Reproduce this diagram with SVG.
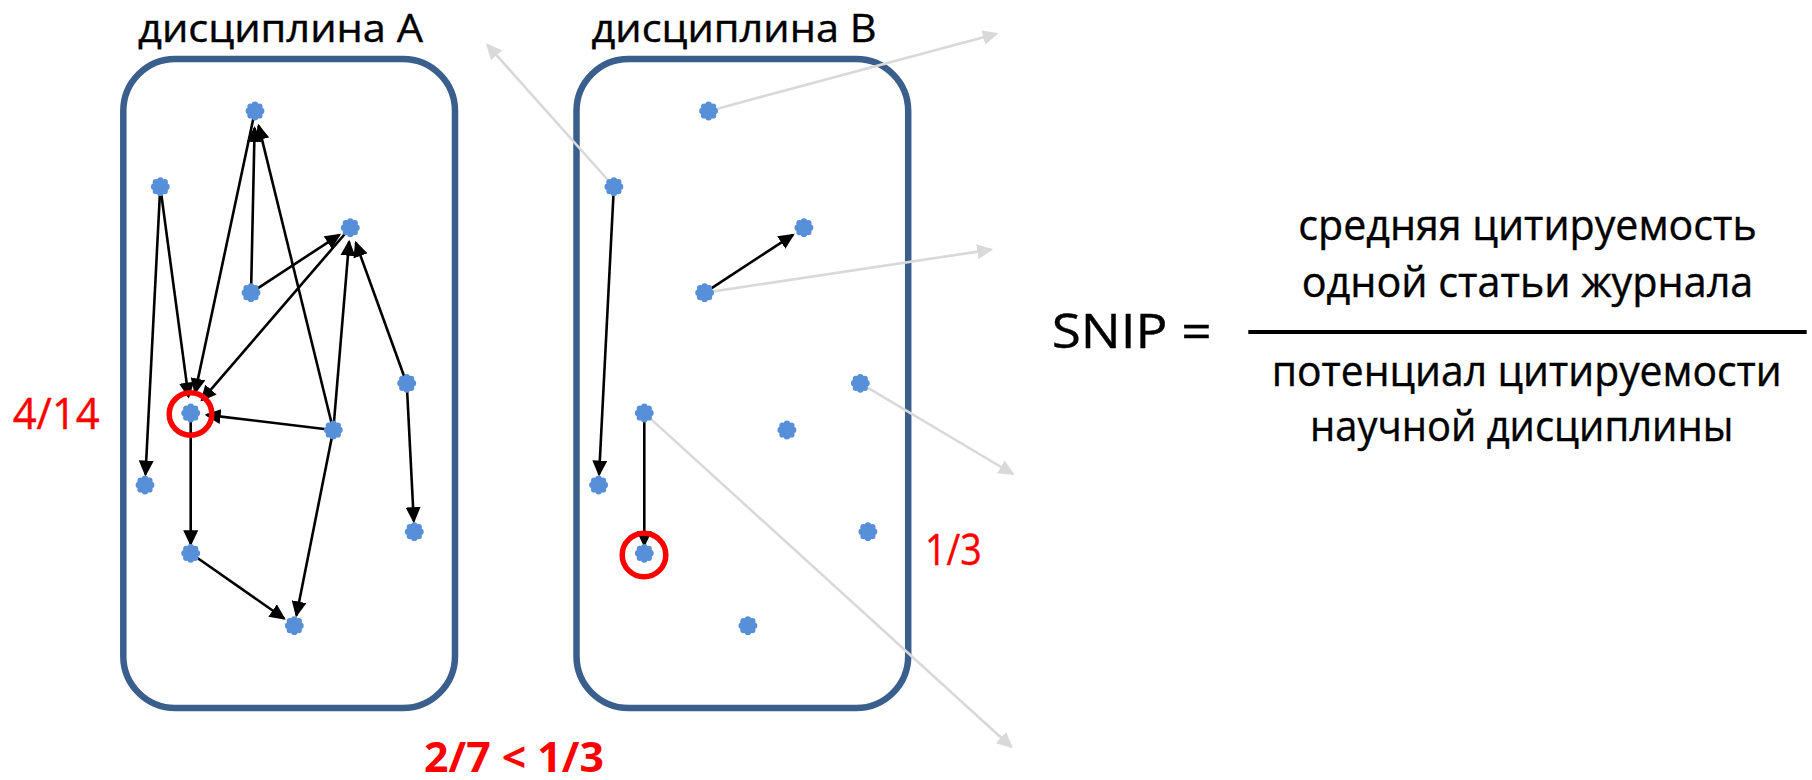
<svg xmlns="http://www.w3.org/2000/svg" xmlns:xlink="http://www.w3.org/1999/xlink" width="1812" height="780" viewBox="0 0 1812 780">
<style>
.box{fill:none;stroke:#3B5F8D;stroke-width:6.5}
.title{font-family:"Open Sans","Noto Sans","Liberation Sans",sans-serif;font-size:38px;fill:#000;stroke:#000;stroke-width:0.4}
.frm{font-family:"Open Sans","Noto Sans","Liberation Sans",sans-serif;font-size:42px;fill:#000;stroke:#000;stroke-width:0.4}
.snip{font-family:"Open Sans","Noto Sans","Liberation Sans",sans-serif;font-size:47px;fill:#000;stroke:#000;stroke-width:0.4}
.red{font-family:"Open Sans","Noto Sans","Liberation Sans",sans-serif;font-size:43px;fill:#FF0000;stroke:#FF0000;stroke-width:0.4}
.redb{font-family:"Open Sans","Noto Sans","Liberation Sans",sans-serif;font-size:41px;font-weight:bold;fill:#FF0000}
.e{stroke:#000;stroke-width:2.6;fill:none;marker-end:url(#ab)}
.g{stroke:#D9D9D9;stroke-width:2.6;fill:none;marker-end:url(#ag)}
.ring{fill:none;stroke:#FF0000;stroke-width:5.5}
.fl{fill:#578FD8}
</style>
<defs>
<marker id="ab" viewBox="0 0 16 15" refX="14" refY="7.5" markerWidth="16" markerHeight="15" markerUnits="userSpaceOnUse" orient="auto"><path d="M0,0 L16,7.5 L0,15 Z" fill="#000"/></marker>
<marker id="ag" viewBox="0 0 16 15" refX="14" refY="7.5" markerWidth="16" markerHeight="15" markerUnits="userSpaceOnUse" orient="auto"><path d="M0,0 L16,7.5 L0,15 Z" fill="#D9D9D9"/></marker>
<g id="fl" class="fl">
<circle r="7"/>
<circle cx="6.2" cy="0" r="3.2"/><circle cx="-6.2" cy="0" r="3.2"/><circle cx="0" cy="6.2" r="3.2"/><circle cx="0" cy="-6.2" r="3.2"/>
<circle cx="4.4" cy="4.4" r="3.2"/><circle cx="-4.4" cy="4.4" r="3.2"/><circle cx="4.4" cy="-4.4" r="3.2"/><circle cx="-4.4" cy="-4.4" r="3.2"/>
</g>
</defs>
<rect width="1812" height="780" fill="#fff"/>

<g id="discA">
<rect class="box" x="123.3" y="59" width="331.7" height="649" rx="52" ry="52"/>
<text class="title" x="138" y="41.5" textLength="285" lengthAdjust="spacingAndGlyphs">дисциплина А</text>
</g>
<g id="discB">
<rect class="box" x="576.5" y="59" width="331.7" height="649" rx="52" ry="52"/>
<text class="title" x="591.5" y="41.5" textLength="285" lengthAdjust="spacingAndGlyphs">дисциплина В</text>
</g>

<g id="connectors">
<line class="e" x1="159.9" y1="193.7" x2="145.5" y2="474.5"/>
<line class="e" x1="161.2" y1="193.6" x2="188.5" y2="396.6"/>
<line class="e" x1="253.5" y1="117.8" x2="195.1" y2="392.5"/>
<line class="e" x1="345.7" y1="233.0" x2="201.8" y2="400.1"/>
<line class="e" x1="326.3" y1="429.2" x2="206.6" y2="414.9"/>
<line class="e" x1="251.2" y1="285.7" x2="254.6" y2="128"/>
<line class="e" x1="331.6" y1="423.2" x2="258.6" y2="125.6"/>
<line class="e" x1="256.9" y1="288.9" x2="339.4" y2="234.8"/>
<line class="e" x1="333.9" y1="423.0" x2="349.1" y2="241.7"/>
<line class="e" x1="404.3" y1="376.7" x2="355.8" y2="242.7"/>
<line class="e" x1="190.7" y1="420" x2="190.7" y2="544.3"/>
<line class="e" x1="196.4" y1="557.3" x2="284.1" y2="618.5"/>
<line class="e" x1="331.9" y1="436.9" x2="296.4" y2="615.4"/>
<line class="e" x1="407.1" y1="390.3" x2="413.8" y2="521.2"/>

<line class="e" x1="613.5" y1="193.7" x2="599.1" y2="474.5"/>
<line class="e" x1="710.5" y1="288.9" x2="793.0" y2="234.8"/>
<line class="e" x1="644.3" y1="420" x2="644.3" y2="545.3"/>

<line class="g" x1="607.9" y1="180.0" x2="487.3" y2="44.8"/>
<line class="g" x1="717.3" y1="108.7" x2="996.7" y2="33.8"/>
<line class="g" x1="713.5" y1="291.4" x2="991.2" y2="249.6"/>
<line class="g" x1="868.0" y1="387.9" x2="1012.9" y2="474.0"/>
<line class="g" x1="651.0" y1="419.1" x2="1011.4" y2="747.0"/>
</g>

<g id="a1"><use xlink:href="#fl" x="255" y="111"/></g>
<g id="a2"><use xlink:href="#fl" x="160.3" y="186.7"/></g>
<g id="a3"><use xlink:href="#fl" x="350.3" y="227.7"/></g>
<g id="a4"><use xlink:href="#fl" x="251" y="292.7"/></g>
<g id="a5"><use xlink:href="#fl" x="406.7" y="383.3"/></g>
<g id="a6"><use xlink:href="#fl" x="190.7" y="413"/><circle class="ring" cx="190.5" cy="414" r="21.3"/></g>
<g id="a7"><use xlink:href="#fl" x="333.3" y="430"/></g>
<g id="a8"><use xlink:href="#fl" x="145" y="485"/></g>
<g id="a9"><use xlink:href="#fl" x="414.3" y="531.7"/></g>
<g id="a10"><use xlink:href="#fl" x="190.7" y="553.3"/></g>
<g id="a11"><use xlink:href="#fl" x="294.3" y="625.7"/></g>

<g id="b1"><use xlink:href="#fl" x="708.6" y="111"/></g>
<g id="b2"><use xlink:href="#fl" x="613.9" y="186.7"/></g>
<g id="b3"><use xlink:href="#fl" x="803.9" y="227.7"/></g>
<g id="b4"><use xlink:href="#fl" x="704.6" y="292.7"/></g>
<g id="b5"><use xlink:href="#fl" x="860.3" y="383.3"/></g>
<g id="b6"><use xlink:href="#fl" x="644.3" y="413"/></g>
<g id="b7"><use xlink:href="#fl" x="786.9" y="430"/></g>
<g id="b8"><use xlink:href="#fl" x="598.6" y="485"/></g>
<g id="b9"><use xlink:href="#fl" x="867.9" y="531.7"/></g>
<g id="b10"><use xlink:href="#fl" x="644.3" y="553.3"/><circle class="ring" cx="644" cy="555" r="21.8"/></g>
<g id="b11"><use xlink:href="#fl" x="747.9" y="625.7"/></g>

<g id="labels">
<text class="red" x="12.7" y="429.3" textLength="87" lengthAdjust="spacingAndGlyphs">4/14</text>
<text class="red" x="925" y="565" textLength="56.7" lengthAdjust="spacingAndGlyphs">1/3</text>
<text class="redb" x="424" y="771.5" textLength="180" lengthAdjust="spacingAndGlyphs">2/7 &lt; 1/3</text>
</g>

<g id="formula">
<text class="snip" x="1051.7" y="348.3" textLength="160" lengthAdjust="spacingAndGlyphs">SNIP =</text>
<line x1="1248.3" y1="332" x2="1806.7" y2="332" stroke="#000" stroke-width="4"/>
<text class="frm" x="1298.3" y="240" textLength="458.4" lengthAdjust="spacingAndGlyphs">средняя цитируемость</text>
<text class="frm" x="1301.7" y="296.7" textLength="451.6" lengthAdjust="spacingAndGlyphs">одной статьи журнала</text>
<text class="frm" x="1271.7" y="386" textLength="510" lengthAdjust="spacingAndGlyphs">потенциал цитируемости</text>
<text class="frm" x="1310" y="441" textLength="423.3" lengthAdjust="spacingAndGlyphs">научной дисциплины</text>
</g>
</svg>
